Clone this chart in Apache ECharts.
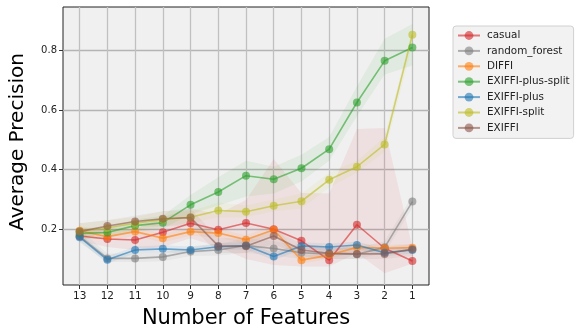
<!DOCTYPE html>
<html>
<head>
<meta charset="utf-8">
<script src="https://cdn.jsdelivr.net/npm/echarts@6/dist/echarts.min.js"></script>
<style>
  html, body { margin: 0; padding: 0; background: #fff; }
  #chart { width: 582px; height: 335px; }
</style>
</head>
<body>
<div id="chart"></div>
<script>
// number of features kept, left to right
var features = [13, 12, 11, 10, 9, 8, 7, 6, 5, 4, 3, 2, 1];
var yTicks = [0.2, 0.4, 0.6, 0.8];

// mean average precision per method
var casual        = [0.177, 0.167, 0.164, 0.190, 0.220, 0.198, 0.221, 0.200, 0.161, 0.096, 0.215, 0.136, 0.093];
var randomForest  = [0.176, 0.102, 0.102, 0.107, 0.125, 0.130, 0.145, 0.135, 0.121, 0.117, 0.116, 0.139, 0.293];
var diffi         = [0.195, 0.175, 0.192, 0.170, 0.192, 0.187, 0.165, 0.198, 0.096, 0.113, 0.139, 0.136, 0.138];
var plusSplit     = [0.186, 0.189, 0.212, 0.222, 0.282, 0.325, 0.380, 0.368, 0.405, 0.469, 0.626, 0.766, 0.811];
var plus          = [0.173, 0.097, 0.130, 0.134, 0.130, 0.141, 0.145, 0.108, 0.144, 0.140, 0.147, 0.121, 0.130];
var split         = [0.193, 0.205, 0.220, 0.233, 0.240, 0.263, 0.259, 0.279, 0.294, 0.366, 0.410, 0.485, 0.854];
var exiffi        = [0.192, 0.211, 0.226, 0.235, 0.239, 0.144, 0.143, 0.177, 0.130, 0.119, 0.117, 0.117, 0.133];

// shaded bands (lower / upper)
var casualLo      = [0.160, 0.140, 0.130, 0.140, 0.170, 0.140, 0.100, 0.080, 0.075, 0.075, 0.120, 0.052, 0.085];
var casualHi      = [0.200, 0.200, 0.200, 0.240, 0.270, 0.250, 0.298, 0.436, 0.322, 0.320, 0.537, 0.540, 0.140];
var randomLo      = [0.155, 0.090, 0.090, 0.092, 0.110, 0.112, 0.120, 0.112, 0.100, 0.100, 0.100, 0.120, 0.272];
var randomHi      = [0.200, 0.118, 0.118, 0.122, 0.140, 0.150, 0.170, 0.160, 0.140, 0.138, 0.136, 0.160, 0.312];
var diffiLo       = [0.180, 0.160, 0.178, 0.155, 0.178, 0.172, 0.150, 0.182, 0.085, 0.100, 0.126, 0.124, 0.126];
var diffiHi       = [0.210, 0.190, 0.206, 0.185, 0.206, 0.202, 0.180, 0.214, 0.108, 0.126, 0.152, 0.148, 0.150];
var plusSplitLo   = [0.165, 0.172, 0.192, 0.202, 0.250, 0.280, 0.310, 0.320, 0.360, 0.430, 0.580, 0.720, 0.750];
var plusSplitHi   = [0.205, 0.206, 0.232, 0.245, 0.315, 0.375, 0.430, 0.410, 0.450, 0.510, 0.680, 0.840, 0.890];
var plusLo        = [0.160, 0.085, 0.118, 0.122, 0.118, 0.129, 0.133, 0.096, 0.132, 0.128, 0.135, 0.109, 0.118];
var plusHi        = [0.186, 0.109, 0.142, 0.146, 0.142, 0.153, 0.157, 0.120, 0.156, 0.152, 0.159, 0.133, 0.142];
var splitLo       = [0.170, 0.180, 0.200, 0.210, 0.220, 0.240, 0.240, 0.260, 0.270, 0.340, 0.390, 0.460, 0.820];
var splitHi       = [0.220, 0.230, 0.240, 0.260, 0.260, 0.290, 0.280, 0.300, 0.320, 0.390, 0.430, 0.510, 0.870];
var exiffiLo      = [0.170, 0.190, 0.210, 0.210, 0.210, 0.120, 0.120, 0.150, 0.110, 0.100, 0.100, 0.100, 0.110];
var exiffiHi      = [0.220, 0.230, 0.245, 0.260, 0.270, 0.170, 0.170, 0.200, 0.150, 0.140, 0.140, 0.140, 0.150];

var methods = [
  { name: 'casual',            color: '#d62728', mean: casual,       lo: casualLo,    hi: casualHi },
  { name: 'random_forest',     color: '#7f7f7f', mean: randomForest, lo: randomLo,    hi: randomHi },
  { name: 'DIFFI',             color: '#ff7f0e', mean: diffi,        lo: diffiLo,     hi: diffiHi },
  { name: 'EXIFFI-plus-split', color: '#2ca02c', mean: plusSplit,    lo: plusSplitLo, hi: plusSplitHi },
  { name: 'EXIFFI-plus',       color: '#1f77b4', mean: plus,         lo: plusLo,      hi: plusHi },
  { name: 'EXIFFI-split',      color: '#bcbd22', mean: split,        lo: splitLo,     hi: splitHi },
  { name: 'EXIFFI',            color: '#8c564b', mean: exiffi,       lo: exiffiLo,    hi: exiffiHi }
];

function pairs(vals) {
  var out = [];
  for (var i = 0; i < features.length; i++) out.push([features[i], vals[i]]);
  return out;
}

var series = [];
// fill_between bands, drawn as one polygon per method
methods.forEach(function (m) {
  var rows = [];
  for (var i = 0; i < features.length; i++) rows.push([features[i], m.lo[i], m.hi[i]]);
  series.push({
    name: m.name + '_band', type: 'custom', silent: true, z: 1,
    data: rows,
    encode: { x: 0, y: [1, 2] },
    renderItem: function (params, api) {
      if (params.dataIndex !== 0) return;
      var pts = [];
      for (var i = 0; i < rows.length; i++) pts.push(api.coord([rows[i][0], rows[i][2]]));
      for (var j = rows.length - 1; j >= 0; j--) pts.push(api.coord([rows[j][0], rows[j][1]]));
      return {
        type: 'polygon',
        shape: { points: pts },
        style: { fill: m.color, opacity: 0.08 }
      };
    }
  });
});
methods.forEach(function (m) {
  series.push({
    name: m.name, type: 'line', data: pairs(m.mean),
    symbol: 'circle', symbolSize: 8, z: 3,
    color: m.color,
    lineStyle: { width: 1.6, color: m.color, opacity: 0.6 },
    itemStyle: { color: m.color, opacity: 0.6 }
  });
});

var chart = echarts.init(document.getElementById('chart'));
chart.setOption({
  animation: false,
  textStyle: { fontFamily: 'DejaVu Sans' },
  grid: {
    left: 56, top: 7, width: 373, height: 278,
    show: true, backgroundColor: '#f0f0f0', borderColor: '#222', borderWidth: 1
  },
  legend: {
    data: methods.map(function (m) { return m.name; }),
    orient: 'vertical', left: 453, top: 26,
    itemWidth: 22, itemHeight: 11, itemGap: 4.4,
    padding: [4, 4, 5, 4],
    backgroundColor: '#f2f2f2', borderColor: '#d0d0d0', borderWidth: 1, borderRadius: 3,
    textStyle: { fontSize: 10.4, color: '#222', lineHeight: 11, padding: [0, 0, 0, 2] }
  },
  xAxis: {
    type: 'value', inverse: true, min: 0.4, max: 13.6,
    name: 'Number of Features', nameLocation: 'middle', nameGap: 23,
    nameTextStyle: { fontSize: 21, color: '#000' },
    axisLine: { show: false },
    axisTick: { customValues: features, length: 4, lineStyle: { color: '#333' } },
    axisLabel: { customValues: features, fontSize: 10.5, color: '#222', margin: 6 },
    splitLine: { show: true, lineStyle: { color: '#c0c0c0', width: 1.3 } }
  },
  yAxis: {
    type: 'value', min: 0.0125, max: 0.947,
    name: 'Average Precision', nameLocation: 'middle', nameGap: 35,
    nameTextStyle: { fontSize: 20, color: '#000', padding: [0, 0, 0, 8] },
    axisLine: { show: false },
    axisTick: { customValues: yTicks, length: 4, lineStyle: { color: '#333' } },
    axisLabel: {
      customValues: yTicks, fontSize: 10, color: '#222', margin: 6,
      formatter: function (v) { return v.toFixed(1); }
    },
    splitLine: { show: true, lineStyle: { color: '#b4b4b4', width: 1.3 } }
  },
  series: series
});
</script>
</body>
</html>
